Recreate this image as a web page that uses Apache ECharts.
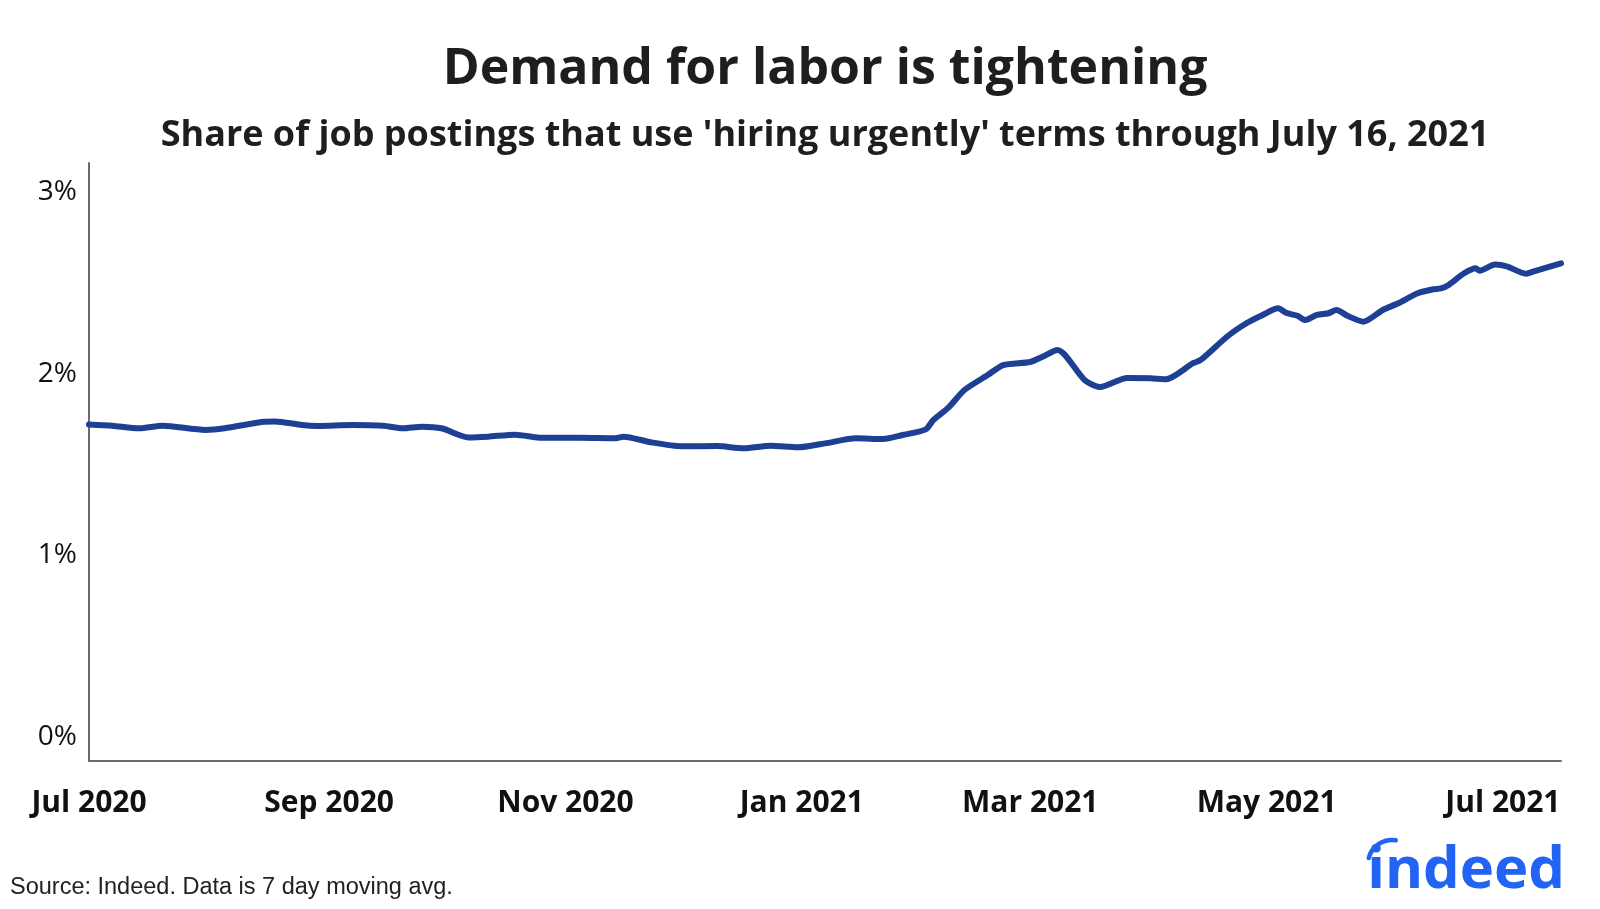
<!DOCTYPE html>
<html>
<head>
<meta charset="utf-8">
<script src="https://cdn.jsdelivr.net/npm/echarts@6/dist/echarts.min.js"></script>
<style>
html,body{margin:0;padding:0;background:#fff;}
#chart{width:1600px;height:909px;}
</style>
</head>
<body>
<div id="chart"></div>
<script>
// ---- data (share of postings, %) ----
const dates = [
  '2020-07-01','2020-07-07','2020-07-14','2020-07-20','2020-07-31','2020-08-05','2020-08-15','2020-08-18',
  '2020-08-25','2020-08-29','2020-09-07','2020-09-15','2020-09-20','2020-09-25','2020-09-30','2020-10-07',
  '2020-10-12','2020-10-19','2020-10-26','2020-11-05','2020-11-14','2020-11-16','2020-11-23','2020-12-01',
  '2020-12-10','2020-12-17','2020-12-24','2020-12-31','2021-01-07','2021-01-15','2021-01-22','2021-01-27',
  '2021-02-02','2021-02-04','2021-02-08','2021-02-12','2021-02-18','2021-02-22','2021-03-01','2021-03-04',
  '2021-03-08','2021-03-15','2021-03-19','2021-03-26','2021-04-01','2021-04-05','2021-04-12','2021-04-14',
  '2021-04-21','2021-04-26','2021-04-30','2021-05-04','2021-05-06','2021-05-09','2021-05-11','2021-05-14',
  '2021-05-17','2021-05-19','2021-05-22','2021-05-26','2021-05-31','2021-06-04','2021-06-09','2021-06-13',
  '2021-06-15','2021-06-17','2021-06-21','2021-06-24','2021-06-25','2021-06-29','2021-07-02','2021-07-07',
  '2021-07-09','2021-07-16'
];
const shares = [
  1.720,1.713,1.699,1.713,1.690,1.699,1.735,1.737,
  1.717,1.712,1.717,1.713,1.699,1.708,1.699,1.649,
  1.653,1.664,1.647,1.647,1.644,1.653,1.622,1.600,
  1.601,1.589,1.603,1.594,1.616,1.644,1.640,1.662,
  1.693,1.745,1.816,1.910,1.992,2.047,2.064,2.091,
  2.130,1.965,1.926,1.976,1.974,1.969,2.057,2.075,
  2.207,2.280,2.323,2.359,2.335,2.318,2.295,2.323,
  2.332,2.350,2.317,2.286,2.350,2.387,2.442,2.464,
  2.469,2.488,2.552,2.580,2.566,2.600,2.590,2.550,
  2.563,2.607
];
const xTickDates = ['2020-07-01','2020-09-01','2020-11-01','2021-01-01','2021-03-01','2021-05-01','2021-07-01'];
const xTickLabels = ['Jul 2020','Sep 2020','Nov 2020','Jan 2021','Mar 2021','May 2021','Jul 2021'];
const yTicks = [0, 1, 2, 3];

const titleText = 'Demand for labor is tightening';
const subtitleText = "Share of job postings that use 'hiring urgently' terms through July 16, 2021";
const sourceText = 'Source: Indeed. Data is 7 day moving avg.';

const toT = d => Date.UTC(+d.slice(0, 4), +d.slice(5, 7) - 1, +d.slice(8, 10));
const xTickTimes = xTickDates.map(toT);
const seriesData = dates.map((d, i) => [toT(d), shares[i]]);

const chart = echarts.init(document.getElementById('chart'), null, {renderer: 'canvas'});
chart.setOption({
  backgroundColor: '#ffffff',
  animation: false,
  grid: {left: 89, right: 39, top: 163, bottom: 148, containLabel: false},
  xAxis: {
    type: 'value',
    min: xTickTimes[0],
    max: toT('2021-07-16'),
    axisLine: {show: true, onZero: false, lineStyle: {color: '#6b6b6b', width: 2}},
    axisTick: {show: false},
    splitLine: {show: false},
    axisLabel: {
      customValues: xTickTimes,
      formatter: function (v) {
        let best = 0, bd = Infinity;
        xTickTimes.forEach((t, i) => { const d = Math.abs(t - v); if (d < bd) { bd = d; best = i; } });
        return xTickLabels[best];
      },
      fontFamily: 'Open Sans', fontWeight: 'bold', fontSize: 30, color: '#111111', margin: 27,
      hideOverlap: false
    }
  },
  yAxis: {
    type: 'value',
    min: -0.132,
    max: 3.159,
    axisLine: {show: true, onZero: false, lineStyle: {color: '#6b6b6b', width: 2}},
    axisTick: {show: false},
    splitLine: {show: false},
    axisLabel: {
      customValues: yTicks,
      formatter: v => Math.round(v) + '%',
      fontFamily: 'Open Sans', fontSize: 28, color: '#111111', margin: 12
    }
  },
  series: [{
    type: 'line',
    data: seriesData,
    showSymbol: false,
    symbol: 'none',
    smooth: 0.25,
    lineStyle: {color: '#1d3f94', width: 6, cap: 'round', join: 'round'}
  }],
  graphic: [
    {type: 'text', z: 10,
     style: {text: titleText, x: 825, y: 70, textAlign: 'center', textVerticalAlign: 'middle',
             font: 'bold 50px "Open Sans"', fill: '#1e1e1e'}},
    {type: 'text', z: 10,
     style: {text: subtitleText, x: 825, y: 136, textAlign: 'center', textVerticalAlign: 'middle',
             font: 'bold 36px "Open Sans"', fill: '#1e1e1e'}},
    {type: 'text', z: 10,
     style: {text: sourceText, x: 10, y: 888, textAlign: 'left', textVerticalAlign: 'middle',
             font: '23.5px "Liberation Sans", Arial, sans-serif', fill: '#222222'}},
    {type: 'text', z: 10,
     style: {text: 'indeed', x: 1565, y: 871, textAlign: 'right', textVerticalAlign: 'middle',
             font: 'bold 58px "Open Sans"', fill: '#2164f3'}},
    {type: 'arc', z: 10,
     shape: {cx: 1392, cy: 864, r: 24, startAngle: Math.PI * 1.08, endAngle: Math.PI * 1.55},
     style: {stroke: '#2164f3', lineWidth: 4.5, fill: null, lineCap: 'round'}}
  ]
});
</script>
</body>
</html>
